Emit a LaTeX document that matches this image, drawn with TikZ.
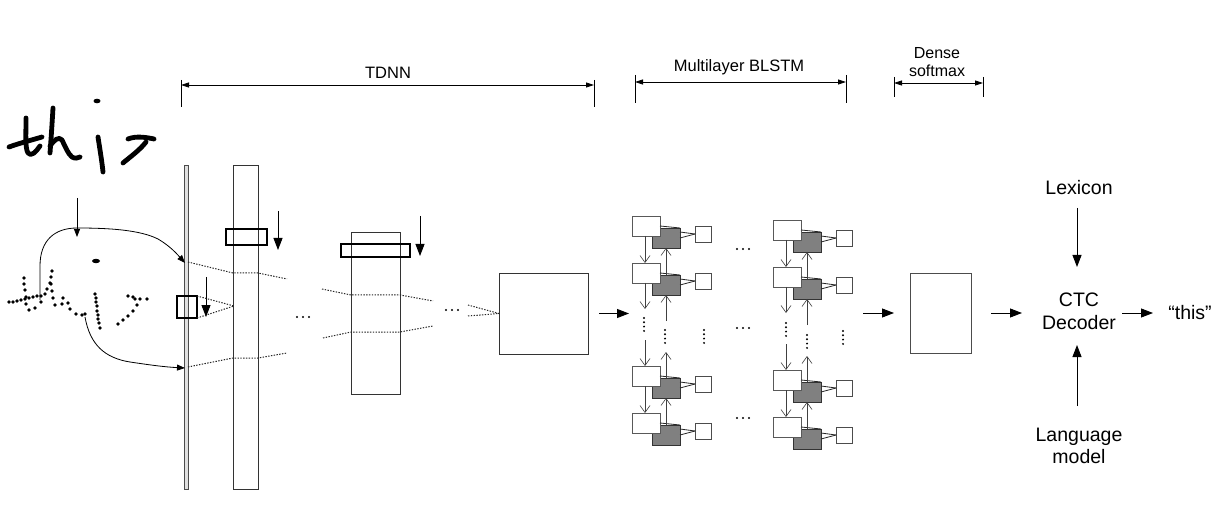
\documentclass[tikz,border=0pt]{standalone}
\usepackage{fontspec}
\setmainfont{Liberation Sans}
\usetikzlibrary{arrows.meta,calc}
\begin{document}
\begin{tikzpicture}[x=1pt,y=-1pt,
  every node/.style={inner sep=0pt,outer sep=0pt},
  rbox/.style={draw=black!80,line width=0.9pt,fill=white,rectangle},
  thickbox/.style={draw=black,line width=2.6pt,rectangle},
  inbar/.style={draw=black!70,line width=0.9pt,fill=black!12,rectangle},
  arr/.style={line width=0.9pt,-{Triangle[length=12pt,width=9pt]}},
  smallarr/.style={line width=0.8pt,-{Triangle[length=8pt,width=6pt]}},
  dim/.style={line width=0.8pt,{Triangle[length=8pt,width=5pt]}-{Triangle[length=8pt,width=5pt]}},
  tick/.style={line width=0.8pt},
  dotl/.style={draw=black!85,line width=1pt,dash pattern=on 1.4pt off 1.4pt},
  hdr/.style={font=\fontsize{16.5}{18}\selectfont,align=center},
  lbl/.style={font=\fontsize{19.5}{22.5}\selectfont,align=center},
  pen/.style={line width=4.8pt,line cap=round,line join=round},
  wcell/.style={draw=black!65,line width=0.9pt,fill=white,minimum width=28pt,minimum height=20pt},
  gcell/.style={draw=black!80,line width=0.9pt,fill=black!50,minimum width=28pt,minimum height=20pt},
  ocell/.style={draw=black!70,line width=0.9pt,fill=white,minimum width=16pt,minimum height=16pt},
  varr/.style={draw=black!75,line width=0.8pt,-{Straight Barb[length=7pt,width=10pt,line width=0.6pt]}},
  hpen/.style={line width=0.8pt}
]
\useasboundingbox (0,0) rectangle (1230,526);

% ---------- dimension lines ----------
\node[hdr] (tdnnlab) at (388,73) {TDNN};
\coordinate (tdL) at (181,85); \coordinate (tdR) at (594,85);
\draw[tick] (181,80) -- (181,107); \draw[tick] (594,80) -- (594,107);
\draw[dim] (tdL) -- (tdR);

\node[hdr] (blstmlab) at (739,67) {Multilayer BLSTM};
\coordinate (blL) at (635,82); \coordinate (blR) at (846,82);
\draw[tick] (635,75) -- (635,103); \draw[tick] (846,75) -- (846,103);
\draw[dim] (blL) -- (blR);

\node[hdr,font=\fontsize{16}{18}\selectfont] (denselab) at (937,62) {Dense\\softmax};
\coordinate (dsL) at (894,83); \coordinate (dsR) at (983,83);
\draw[tick] (894,77) -- (894,97); \draw[tick] (983,77) -- (983,97);
\draw[dim] (dsL) -- (dsR);

% ---------- handwriting "this" ----------
\draw[pen] (26,118) .. controls (26,135) and (25,148) .. (28,153) .. controls (31,157) and (36,152) .. (40,146);
\draw[pen] (9,147) .. controls (20,143) and (32,140) .. (42,137);
\draw[pen] (53,108) .. controls (52,125) and (51,140) .. (50,153);
\draw[pen] (50,146) .. controls (54,140) and (59,136) .. (62,140) .. controls (65,146) and (68,154) .. (72,157) .. controls (75,159) and (78,158) .. (80,157);
\fill (97,101) ellipse (3.5pt and 2.3pt);
\draw[pen] (98,137) .. controls (100,150) and (102,162) .. (103,172);
\draw[pen] (128,139) .. controls (135,136) and (145,137) .. (154,139);
\draw[pen] (146,142) .. controls (140,150) and (130,157) .. (123,163);

% ---------- dotted handwriting ----------
\foreach \p in {(9,302),(13,302),(17,301),(21,300),(25,299),(29,298),(33,297),(37,296),(41,296),
  (24,278),(24,284),(25,290),(26,297),(26,304),(29,310),(35,308),
  (52,271),(51,277),(50,283),(47,289),(45,294),(41,302),
  (51,284),(52,291),(53,298),(55,305),(62,304),(63,298),(68,303),(70,309),(76,314),(82,315),(85,314),
  (95,294),(96,298),(96,302),(97,306),(97,311),(98,315),(98,319),(99,323),(100,328),
  (128,296),(133,297),(135,299),(140,299),(147,299),(137,305),(133,311),(128,316),(123,320),(118,324)}
  \fill \p circle (1.9pt);
\fill (96,261) ellipse (4pt and 2.2pt);

% ---------- TDNN ----------
\node[inbar,minimum width=4pt,minimum height=324pt] (bar1) at (186.5,327) {};
\node[rbox,minimum width=25pt,minimum height=324pt] (bar2) at (245.5,327) {};
\node[thickbox,minimum width=41pt,minimum height=16pt] (k2) at (246.5,237) {};
\node[thickbox,minimum width=20pt,minimum height=22pt] (k1) at (187,307) {};
\node[rbox,minimum width=49pt,minimum height=162pt] (bar3) at (375.5,313) {};
\node[thickbox,minimum width=69pt,minimum height=13pt] (k3) at (375.5,250.5) {};
\node[rbox,minimum width=89pt,minimum height=81pt] (box4) at (543.5,313.5) {};

% curves into input
\coordinate (cstart) at (40,300);
\coordinate (cend) at (185,263);
\draw[smallarr] (cstart) -- (40,266) .. controls (40,240) and (55,228) .. (77,228)
  .. controls (110,228) and (140,230) .. (158,239) .. controls (170,246) and (177,254) .. (cend);
\coordinate (c2start) at (85,317);
\coordinate (c2end) at (185,368);
\draw[smallarr] (c2start) .. controls (90,345) and (105,358) .. (130,362) .. controls (150,365) and (165,367) .. (c2end);
\coordinate (dA) at (77,198); \coordinate (dB) at (77,237);
\draw[smallarr] (dA) -- (dB);

% small arrows beside thick boxes
\coordinate (a1s) at (206,277); \coordinate (a1e) at (206,317);
\draw[arr] (a1s) -- (a1e);
\coordinate (a2s) at (278,211); \coordinate (a2e) at (278,250);
\draw[arr] (a2s) -- (a2e);
\coordinate (a3s) at (420,216); \coordinate (a3e) at (420,256);
\draw[arr] (a3s) -- (a3e);

% dotted projections
\draw[dotl] (188,262) -- (233,273) -- (258,273) -- (287,279);
\draw[dotl] (188,367) -- (233,358) -- (258,358) -- (287,353);
\draw[dotl] (k1.north east) -- (234,306);
\draw[dotl] (k1.south east) -- (234,306);
\draw[dotl] (322,289) -- (351,295) -- (400,295) -- (433,301);
\draw[dotl] (323,338) -- (351,332) -- (400,332) -- (433,326);
\draw[dotl] (468,305) -- (box4.west);
\draw[dotl] (468,316) -- (box4.west);

% ellipses
\foreach \x in {297,303,309} \fill (\x,317) circle (1.1pt);
\foreach \x in {446,452,458} \fill (\x,310) circle (1.1pt);

\draw[arr] ([xshift=11pt]box4.east) -- ([xshift=41pt]box4.east);

% ---------- BLSTM ----------
\foreach \c/\dx/\dy in {1/0/0, 2/141/4}{
  \foreach \r/\ry in {1/216, 2/263, 3/366, 4/413}{
    \node[gcell] (g\c\r) at (666+\dx,\ry+22+\dy) {};
    \node[wcell] (w\c\r) at (646+\dx,\ry+10+\dy) {};
    \node[ocell] (o\c\r) at (703+\dx,\ry+18+\dy) {};
    \draw[hpen,black!85] ($(w\c\r.north east)+(0,10)$) -- (g\c\r.north east);
    \draw[hpen,black!85] ($(g\c\r.north east)+(0,4)$) -- (o\c\r.west);
    \draw[hpen,black!85] ($(g\c\r.north east)+(0,10)$) -- (o\c\r.west);
  }
  \draw[varr] ([xshift=-1pt]w\c1.south) -- ([xshift=-1pt]w\c2.north);
  \draw[varr] (g\c2.north) -- (g\c1.south);
  \draw[varr] ([xshift=-1pt]w\c3.south) -- ([xshift=-1pt]w\c4.north);
  \draw[varr] (g\c4.north) -- (g\c3.south);
  \draw[varr] ([xshift=-1pt]w\c2.south) -- ([xshift=-1pt,yshift=-26pt]w\c2.south);
  \draw[varr] ([xshift=-1pt,yshift=26pt]w\c3.north) -- ([xshift=-1pt]w\c3.north);
  \draw[varr] ([yshift=-26pt]g\c2.south) -- (g\c2.south);
  \draw[varr] (g\c3.north) -- ([yshift=26pt]g\c3.north);
}
% vertical dots
\foreach \x/\y in {644/318, 665/330, 704/330, 786/323, 807/335, 843/331}
  \foreach \k in {0,1,2,3} \fill (\x,\y+\k*4.3) circle (1.1pt);
% horizontal dots between columns
\foreach \y in {249,328,418}
  \foreach \x in {737,743,749} \fill (\x,\y) circle (1.1pt);

% ---------- Dense and decoder ----------
\node[rbox,draw=black!70,minimum width=61pt,minimum height=80pt] (dense) at (940.5,313) {};
\draw[arr] ([xshift=-47pt]dense.west) -- ([xshift=-16pt]dense.west);
\node[lbl] (ctc) at (1079,311.5) {CTC\\Decoder};
\node[lbl] (this) at (1190,313) {“this”};
\node[lbl] (lex) at (1079,188) {Lexicon};
\node[lbl] (lm) at (1079,446) {Language\\model};
\draw[arr] ([xshift=20pt]dense.east) -- ([xshift=-57pt,yshift=-1.5pt]ctc.center);
\draw[arr] ([xshift=43pt,yshift=-1.5pt]ctc.center) -- ([xshift=-37pt]this.center);
\draw[arr] ([xshift=-2pt,yshift=-20pt]lex.center) -- ([xshift=-2pt,yshift=44.5pt]ctc.center);
\draw[arr] ([xshift=-2pt,yshift=40pt]lm.center) -- ([xshift=-2pt,yshift=-33.5pt]ctc.center);
\end{tikzpicture}
\end{document}
